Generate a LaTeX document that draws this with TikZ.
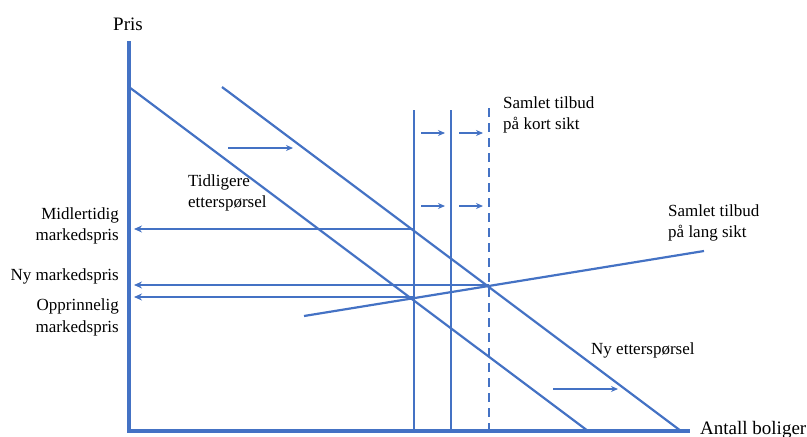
\documentclass[tikz,border=0pt]{standalone}
\usepackage{fontspec}
\setmainfont{Liberation Serif}
\usetikzlibrary{arrows.meta}
\definecolor{lblue}{HTML}{4472C4}
\begin{document}
\begin{tikzpicture}[x=1pt,y=-1pt,
  axisline/.style={draw=lblue,line width=4pt},
  curve/.style={draw=lblue,line width=2.2pt},
  shiftarrow/.style={draw=lblue,line width=1.1pt,-{Stealth[length=7pt,width=6pt]}},
  pricearrow/.style={draw=lblue,line width=1.3pt,-{Stealth[length=8pt,width=7pt]}},
  lbl/.style={font=\fontsize{17}{21}\selectfont,inner sep=0pt,text=black},
  biglbl/.style={font=\fontsize{19}{23}\selectfont,inner sep=0pt,text=black}]
\useasboundingbox (0,0) rectangle (807,437);
% axes
\coordinate (ytop) at (129,41);
\coordinate (orig) at (129,432);
\coordinate (xend) at (690,431);
\draw[axisline] (ytop) -- (orig);
\draw[axisline] (127,431) -- (xend);
% demand curves
\coordinate (d1a) at (129,87);
\coordinate (d1b) at (588,431);
\coordinate (d2a) at (222,87);
\coordinate (d2b) at (681,431);
\draw[curve] (d1a) -- (d1b);
\draw[curve] (d2a) -- (d2b);
% short-run supply
\coordinate (s1a) at (414,110); \coordinate (s1b) at (414,431);
\coordinate (s2a) at (451,110); \coordinate (s2b) at (451,431);
\coordinate (s3a) at (489,108); \coordinate (s3b) at (489,431);
\draw[curve] (s1a) -- (s1b);
\draw[curve] (s2a) -- (s2b);
\draw[curve,dash pattern=on 9pt off 6pt] (s3a) -- (s3b);
% long-run supply
\coordinate (lra) at (304,316);
\coordinate (lrb) at (704,251);
\draw[curve] (lra) -- (lrb);
% shift arrows
\coordinate (a1s) at (421,133); \coordinate (a1e) at (445,133);
\coordinate (a2s) at (459,133); \coordinate (a2e) at (483,133);
\coordinate (a3s) at (421,206); \coordinate (a3e) at (445,206);
\coordinate (a4s) at (459,206); \coordinate (a4e) at (483,206);
\coordinate (a5s) at (228,148); \coordinate (a5e) at (293,148);
\coordinate (a6s) at (553,389); \coordinate (a6e) at (618,389);
\draw[shiftarrow] (a1s) -- (a1e);
\draw[shiftarrow] (a2s) -- (a2e);
\draw[shiftarrow] (a3s) -- (a3e);
\draw[shiftarrow] (a4s) -- (a4e);
\draw[shiftarrow] (a5s) -- (a5e);
\draw[shiftarrow] (a6s) -- (a6e);
% price arrows
\coordinate (p1s) at (414,229); \coordinate (p1e) at (134,229);
\coordinate (p2s) at (489,285); \coordinate (p2e) at (134,285);
\coordinate (p3s) at (414,297); \coordinate (p3e) at (134,297);
\draw[pricearrow] (p1s) -- (p1e);
\draw[pricearrow] (p2s) -- (p2e);
\draw[pricearrow] (p3s) -- (p3e);
% labels
\node[biglbl,anchor=center] (pris) at (128,24) {Pris};
\node[biglbl,anchor=base west] (antall) at (700,434) {Antall boliger};
\node[lbl,anchor=north west,align=left] (kort) at (503,97) {Samlet tilbud\\på kort sikt};
\node[lbl,anchor=north west,align=left] (lang) at (668,205) {Samlet tilbud\\på lang sikt};
\node[lbl,anchor=north west,align=left] (tidl) at (188,175) {Tidligere\\etterspørsel};
\node[lbl,anchor=west] (nyett) at (591,350) {Ny etterspørsel};
\node[lbl,anchor=north east,align=right] (midl) at (119,208) {Midlertidig\\markedspris};
\node[lbl,anchor=base east] (nym) at (119,280) {Ny markedspris};
\node[lbl,anchor=north east,align=right] (oppr) at (119,299) {Opprinnelig\\markedspris};
\end{tikzpicture}
\end{document}
